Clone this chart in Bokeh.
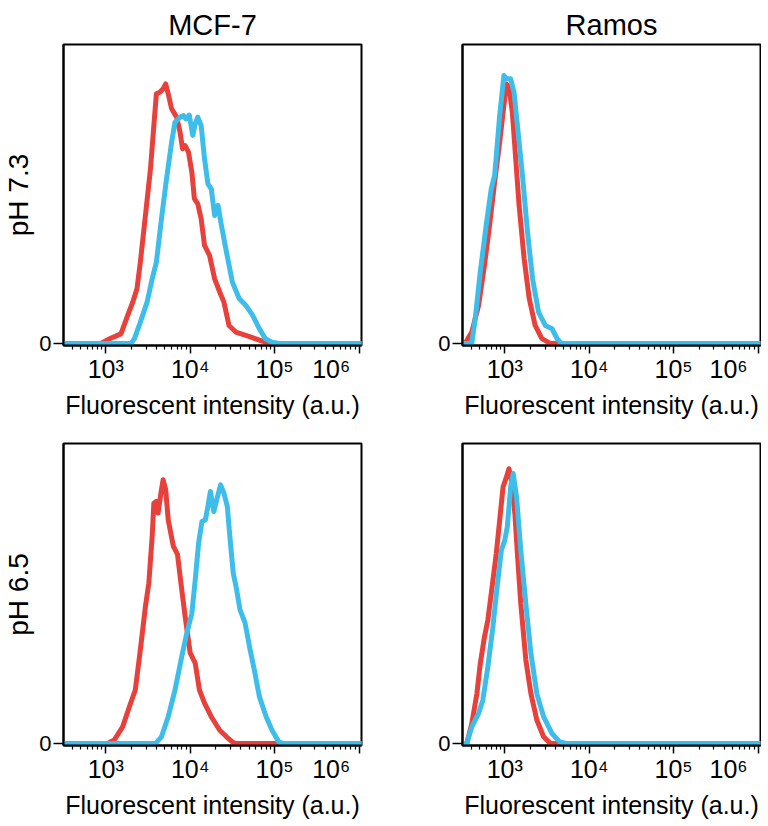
from bokeh.plotting import figure
from bokeh.layouts import column, row
from bokeh.models import FixedTicker, Range1d
from bokeh.embed import file_html
from bokeh.resources import INLINE

# ---------------- data (fluorescent intensity, a.u. ; counts as % of panel height) -------------
cell_lines = ["MCF-7", "Ramos"]
ph_labels = ["pH 7.3", "pH 6.5"]

# MCF-7, pH 7.3
mcf7_73_red_x = [316, 871, 1148, 1514, 1820, 2089, 2344, 2570, 2951, 3388, 3715, 3981, 4365, 4786,
                 5129, 5495, 6026, 6918, 7586, 8128, 8710, 9550, 10470, 11220, 12300, 13490, 14790,
                 16980, 19500, 22390, 25120, 28840, 34670, 45710, 58880, 77620, 85110, 1200000]
mcf7_73_red_y = [0, 0, 1.7, 3.2, 9.4, 13.8, 18.3, 27.2, 42.8, 58.4, 72.9, 83.5, 84.0, 85.2,
                 86.8, 83.5, 78.5, 75.7, 70.7, 65.1, 66.2, 64.0, 57.3, 48.4, 46.7, 41.7, 32.8,
                 29.4, 21.6, 17.2, 13.8, 6.0, 3.8, 2.7, 1.6, 0.4, 0, 0]
mcf7_73_blue_x = [316, 1995, 2188, 2570, 3090, 3548, 3981, 4571, 5248, 6026, 6607, 7586, 8318, 8913,
                  9772, 10720, 11480, 12300, 13490, 14790, 16220, 17780, 19500, 21380, 23440, 26920,
                  31620, 38020, 45710, 54950, 66070, 77620, 93330, 112200, 1200000]
mcf7_73_blue_y = [0, 0, 1.6, 7.1, 13.8, 21.6, 27.2, 41.7, 55.1, 67.3, 74.0, 75.7, 76.2, 75.1,
                  76.4, 69.6, 73.5, 75.7, 72.9, 61.8, 53.4, 51.7, 42.8, 46.2, 39.5, 30.5,
                  20.5, 15.0, 12.7, 9.4, 4.9, 1.6, 0.4, 0, 0]

# Ramos, pH 7.3
ramos_73_red_x = [316, 339, 407, 490, 575, 661, 759, 871, 977, 1047, 1122, 1230, 1349, 1479, 1698,
                  1950, 2291, 2754, 3467, 1200000]
ramos_73_red_y = [0, 0, 3.8, 12.7, 26.1, 39.5, 54.0, 67.3, 79.6, 86.8, 85.7, 77.4, 61.8, 46.2, 28.3,
                  15.0, 6.0, 1.6, 0, 0]
ramos_73_blue_x = [316, 407, 447, 513, 603, 692, 759, 871, 977, 1047, 1175, 1288, 1413, 1622, 1862,
                   2138, 2512, 3020, 3631, 4169, 4677, 1200000]
ramos_73_blue_y = [0, 0, 8.3, 23.9, 39.5, 51.7, 56.2, 76.2, 89.6, 88.5, 88.5, 84.0, 72.9, 56.2, 37.2,
                   21.6, 10.5, 6.0, 4.9, 1.6, 0, 0]

# MCF-7, pH 6.5
mcf7_65_red_x = [316, 1047, 1259, 1585, 1905, 2239, 2570, 2951, 3236, 3548, 3715, 3981, 4169, 4571,
                 4786, 5129, 5495, 6310, 7079, 7943, 8710, 10000, 11480, 12880, 14790, 17780, 22390,
                 26920, 31620, 34000, 1200000]
mcf7_65_red_y = [0, 0, 1.1, 5.5, 12.2, 17.8, 31.2, 45.6, 53.4, 69.0, 80.1, 80.7, 76.8, 84.6,
                 87.9, 84.6, 74.6, 65.8, 63.0, 51.3, 42.4, 30.2, 26.8, 17.8, 13.4, 8.9, 4.4,
                 2.2, 0.5, 0, 0]
mcf7_65_blue_x = [316, 3890, 4571, 5495, 6607, 7943, 9120, 10470, 11480, 12590, 13800, 15140, 16220,
                  17380, 19050, 20890, 22910, 25120, 27540, 29510, 32360, 35480, 38900, 44670, 51290,
                  57540, 66070, 79430, 93330, 112200, 125900, 1200000]
mcf7_65_blue_y = [0, 0, 2.2, 8.9, 17.8, 28.9, 36.7, 43.4, 54.5, 66.8, 74.0, 74.6, 79.0,
                  84.0, 77.3, 81.8, 86.2, 83.4, 79.0, 69.0, 56.8, 51.3, 44.6, 40.2, 31.2,
                  24.5, 15.6, 8.9, 4.4, 0.5, 0, 0]

# Ramos, pH 6.5
ramos_65_red_x = [316, 355, 407, 468, 513, 575, 631, 692, 794, 871, 955, 1047, 1122, 1202, 1318,
                  1413, 1549, 1778, 2042, 2399, 2884, 3467, 1200000]
ramos_65_red_y = [0, 0, 6.6, 16.6, 26.6, 35.5, 41.1, 50.0, 63.3, 74.4, 85.5, 88.8, 91.6, 87.8, 76.6,
                  63.3, 46.6, 27.8, 16.6, 7.8, 2.2, 0, 0]
ramos_65_blue_x = [316, 355, 407, 490, 550, 631, 724, 813, 912, 1000, 1072, 1175, 1259, 1380, 1549,
                   1778, 2042, 2399, 2884, 3631, 4467, 5370, 1200000]
ramos_65_blue_y = [0, 0, 5.5, 10.0, 14.4, 25.5, 38.8, 52.2, 64.4, 67.7, 72.2, 85.5, 90.0, 82.2, 64.4,
                   46.6, 30.0, 16.6, 8.9, 3.3, 0.5, 0, 0]

decade_ticks = [1000, 10000, 100000, 1000000]
NB = "\u00a0"
decade_labels_left = ["10\u00b3", "10\u2074", "10\u2075", "10\u2076" + NB * 8]
decade_labels_right = ["10\u00b3", "10\u2074", "10\u2075", "10\u2076" + NB * 2]
x_label = "Fluorescent intensity (a.u.)"

RED = "#E8403B"
BLUE = "#3DBDEA"
FONT = "Liberation Sans"


def make_panel(red_x, red_y, blue_x, blue_y, labels, title=None, ylabel=None,
               left=54, right=55, top=44, bottom=86, fh=301):
    p = figure(x_axis_type="log", x_range=Range1d(316, 1070000), y_range=Range1d(-0.7, 100),
               frame_width=298, frame_height=fh,
               min_border_left=left, min_border_right=right, min_border_top=top,
               min_border_bottom=bottom,
               toolbar_location=None, output_backend="svg")
    p.background_fill_color = "white"
    p.border_fill_color = "white"
    p.outline_line_color = "black"
    p.outline_line_width = 2
    p.xgrid.visible = False
    p.ygrid.visible = False

    p.line(red_x, red_y, line_color=RED, line_width=5, line_join="round")
    p.line(blue_x, blue_y, line_color=BLUE, line_width=5, line_join="round")

    minor = [m * 10 ** k for k in range(2, 7) for m in range(2, 10)]
    xa = p.xaxis[0]
    xa.ticker = FixedTicker(ticks=decade_ticks, minor_ticks=minor)
    xa.major_label_overrides = dict(zip(decade_ticks, labels))
    xa.axis_label = x_label
    xa.axis_label_text_font = FONT
    xa.axis_label_text_font_size = "25px"
    xa.axis_label_text_font_style = "normal"
    xa.axis_label_text_color = "black"
    xa.axis_label_standoff = 5
    xa.major_label_text_font = FONT
    xa.major_label_text_font_size = "25px"
    xa.major_label_text_color = "black"
    xa.major_label_standoff = 1
    xa.axis_line_width = 2
    xa.axis_line_color = "black"
    xa.major_tick_out = 8
    xa.major_tick_in = 0
    xa.minor_tick_out = 4
    xa.minor_tick_in = 0
    xa.major_tick_line_width = 1.5
    xa.minor_tick_line_width = 1.2

    ya = p.yaxis[0]
    ya.ticker = FixedTicker(ticks=[0], minor_ticks=[])
    ya.major_label_text_font = FONT
    ya.major_label_text_font_size = "22px"
    ya.major_label_text_color = "black"
    ya.major_label_standoff = 2
    ya.major_tick_out = 10
    ya.major_tick_in = 0
    ya.major_tick_line_width = 1.5
    ya.axis_line_width = 2
    if ylabel:
        ya.axis_label = ylabel
        ya.axis_label_text_font = FONT
        ya.axis_label_text_font_size = "28px"
        ya.axis_label_text_font_style = "normal"
        ya.axis_label_text_color = "black"
        ya.axis_label_standoff = 2

    if title:
        p.title.text = title
        p.title.align = "center"
        p.title.vertical_align = "top"
        p.title.text_font = FONT
        p.title.text_font_size = "29px"
        p.title.text_font_style = "normal"
        p.title.text_color = "black"
        p.title.standoff = 4
    return p


a = make_panel(mcf7_73_red_x, mcf7_73_red_y, mcf7_73_blue_x, mcf7_73_blue_y, decade_labels_left,
               title=cell_lines[0], ylabel=ph_labels[0], left=54, right=55, top=44, bottom=86, fh=301)
b = make_panel(ramos_73_red_x, ramos_73_red_y, ramos_73_blue_x, ramos_73_blue_y, decade_labels_right,
               title=cell_lines[1], left=46, right=1, top=44, bottom=86, fh=301)
c = make_panel(mcf7_65_red_x, mcf7_65_red_y, mcf7_65_blue_x, mcf7_65_blue_y, decade_labels_left,
               ylabel=ph_labels[1], left=54, right=55, top=12, bottom=69, fh=302)
d = make_panel(ramos_65_red_x, ramos_65_red_y, ramos_65_blue_x, ramos_65_blue_y, decade_labels_right,
               left=46, right=1, top=12, bottom=69, fh=302)

layout = column(row(a, b), row(c, d))

open("out.html", "w").write(file_html(layout, INLINE))
